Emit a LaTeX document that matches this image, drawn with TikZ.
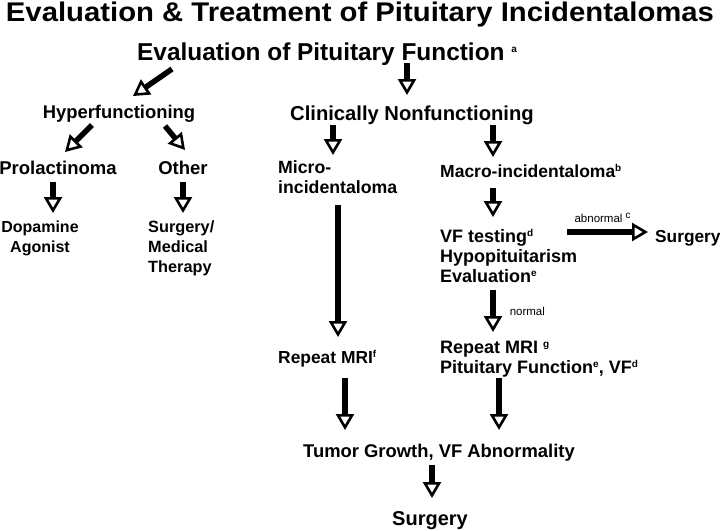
\documentclass[tikz,border=0pt]{standalone}
\usepackage{fontspec}
\setmainfont{Liberation Sans}
\usetikzlibrary{arrows.meta}
\newcommand{\fsz}[2]{\fontsize{#1}{#2}\selectfont}
\newcommand{\supmark}[1]{\raisebox{0.3em}{\fsz{10}{12}#1}}

\begin{document}
\begin{tikzpicture}[x=1pt, y=-1pt,
    box/.style = {inner sep=0pt, font=\bfseries\fsz{#1}{20}},
    box/.default = {18},
    flow/.style = {line width=5.5pt, -{Triangle[open, length=16pt, width=18pt, line width=2.6pt]}},
    lbl/.style = {inner sep=0pt, font=\fsz{11.5}{13}}]
    \useasboundingbox (0,0) rectangle (720,530);

    \node[box=27, anchor=base] (title) at (360,21) {\scalebox{1.085}[1]{Evaluation \& Treatment of Pituitary Incidentalomas}};
    \node[box=24.4, anchor=base west] (eval) at (137,60) {Evaluation of Pituitary Function~\supmark{a}};

    \node[box=18.4, anchor=base] (hyper) at (119,118) {Hyperfunctioning};
    \node[box=20.2, anchor=base west] (clin) at (290,120) {Clinically Nonfunctioning};

    \node[box=18.5, anchor=base] (prolac) at (58,174) {Prolactinoma};
    \node[box=18.5, anchor=base] (other) at (183,174) {Other};
    % multi-line boxes: base is the last line
    \node[box=17.7, anchor=base west, align=left] (micro) at (278,193) {Micro-\\incidentaloma};
    \node[box=17.5, anchor=base west] (macro) at (440,177) {Macro-incidentaloma\supmark{b}};

    \node[box=16, anchor=base, align=center] (dopa) at (40,252) {Dopamine\\Agonist};
    \node[box=16.3, anchor=base west, align=left] (surgmed) at (148,272) {Surgery/\\Medical\\Therapy};
    \node[box=18, anchor=base west, align=left] (vf) at (440,282) {VF testing\supmark{d}\\Hypopituitarism\\Evaluation\supmark{e}};
    \node[box=17.3, anchor=base west] (surgR) at (655,242) {Surgery};

    \node[box=17.4, anchor=base west] (mrif) at (278,363) {Repeat MRI\supmark{f}};
    \node[box=18, anchor=base west, align=left] (mrig) at (440,373) {Repeat MRI \supmark{g}\\Pituitary Function\supmark{e}, VF\supmark{d}};

    \node[box=18.4, anchor=base west] (tumor) at (303,457) {Tumor Growth, VF Abnormality};
    \node[box=20, anchor=base] (surgB) at (430,525) {Surgery};

    % first split
    \path[flow] ([shift={(35,9)}]eval.base west) edge ([shift={(14,-22)}]hyper.base);
    \path[flow] ([shift={(270,3)}]eval.base west) edge ([shift={(117,-25)}]clin.base west);
    \path[flow] ([shift={(-27,7)}]hyper.base) edge ([shift={(7,-22)}]prolac.base);
    \path[flow] ([shift={(46,8)}]hyper.base) edge ([shift={(2,-24)}]other.base);
    \path[flow] ([shift={(43,5)}]clin.base west) edge ([shift={(55,-38)}]micro.base west);
    \path[flow] ([shift={(203,5)}]clin.base west) edge ([shift={(53,-20)}]macro.base west);
    \path[flow] ([shift={(-5,8)}]prolac.base) edge ([shift={(13,-39)}]dopa.base);
    \path[flow] ([shift={(0,8)}]other.base) edge ([shift={(35,-59)}]surgmed.base west);

    % nonfunctioning branch
    \path[flow] ([shift={(60,12)}]micro.base west) edge ([shift={(60,-26)}]mrif.base west);
    \path[flow] ([shift={(53,11)}]macro.base west) edge ([shift={(53,-65)}]vf.base west);
    \path[flow] ([shift={(127,-50)}]vf.base west) edge node[lbl, anchor=base, pos=.44, yshift=10pt] {abnormal \supmark{c}} ([shift={(-7,-10)}]surgR.base west);
    \path[flow] ([shift={(53,8)}]vf.base west) edge node[lbl, anchor=base west, pos=.6, xshift=14pt] {normal} ([shift={(53,-41)}]mrig.base west);
    \path[flow] ([shift={(67,15)}]mrif.base west) edge ([shift={(42,-27)}]tumor.base west);
    \path[flow] ([shift={(59,5)}]mrig.base west) edge ([shift={(196,-27)}]tumor.base west);
    \path[flow] ([shift={(129,8)}]tumor.base west) edge ([shift={(2,-27)}]surgB.base);
\end{tikzpicture}
\end{document}
